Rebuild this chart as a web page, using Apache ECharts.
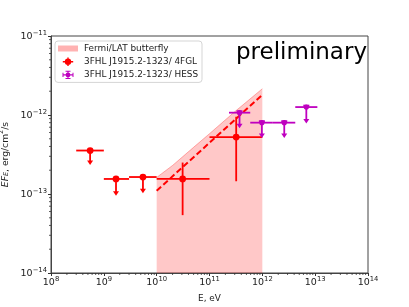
<!DOCTYPE html>
<html><head><meta charset="utf-8">
<script src="https://cdn.jsdelivr.net/npm/echarts@6/dist/echarts.min.js"></script>
<style>html,body{margin:0;padding:0;background:#fff}#c{width:409px;height:307px}</style>
</head><body><div id="c"></div>
<script>
// ---- data ----
const bflyE = [1e10, 2e10, 5e10, 1e11, 3e11, 1e12];
const bflyUpper = [1.62e-13, 2.3e-13, 3.9e-13, 5.8e-13, 1.1e-12, 2.15e-12];
const fitE = [1e10, 1e12];
const fitFlux = [1.1e-13, 1.8e-12];

const fglE = [5.5e8, 1.7e9, 5.5e9, 3.1e10, 3.2e11];
const fglFlux = [3.55e-13, 1.55e-13, 1.64e-13, 1.55e-13, 5.25e-13];
const fglElo = [3e8, 1e9, 3e9, 1e10, 1e11];
const fglEhi = [1e9, 3e9, 1e10, 1e11, 1e12];
const fglFluxLo = [2.33e-13, 9.5e-14, 1.02e-13, 5.4e-14, 1.45e-13];
const fglFluxHi = [null, null, null, 2.5e-13, 9.5e-13];
const fglUL = [1, 1, 1, 0, 0];

const hessE = [3.7e11, 9.8e11, 2.6e12, 6.8e12];
const hessFlux = [1.07e-12, 8.0e-13, 8.0e-13, 1.26e-12];
const hessElo = [2.34e11, 5.9e11, 1.58e12, 4.2e12];
const hessEhi = [5.9e11, 1.58e12, 4.2e12, 1.1e13];
const hessFluxLo = [6.8e-13, 5.1e-13, 5.1e-13, 7.8e-13];
const hessFluxHi = [null, null, null, null];
const hessUL = [1, 1, 1, 1];

const xMinExp = 8, xMaxExp = 14;
const yMinExp = -14, yMaxExp = -11;

// ---- helpers ----
const FONT = 'DejaVu Sans';
const RED = '#ff0000', MAG = '#bf00bf';
function rows(E, F, lo, hi, flo, fhi, ul) {
  return E.map((e, i) => [e, F[i], lo[i], hi[i], flo[i], fhi[i] == null ? F[i] : fhi[i], ul[i]]);
}
function errRender(color, r, cap) {
  return function (params, api) {
    const x = api.value(0), y = api.value(1);
    const p = api.coord([x, y]);
    const pl = api.coord([api.value(2), y]);
    const pr = api.coord([api.value(3), y]);
    const ls = {stroke: color, lineWidth: 1.8};
    const ch = [];
    ch.push({type: 'line', shape: {x1: pl[0], y1: p[1], x2: pr[0], y2: p[1]}, style: ls});
    if (api.value(6)) {
      const pe = api.coord([x, api.value(4)]);
      ch.push({type: 'line', shape: {x1: p[0], y1: p[1], x2: p[0], y2: pe[1] - 3}, style: ls});
      ch.push({type: 'polygon', shape: {points: [[p[0] - 3, pe[1] - 4.5], [p[0] + 3, pe[1] - 4.5], [p[0], pe[1]]]}, style: {fill: color}});
    } else {
      const pb = api.coord([x, api.value(4)]), pt = api.coord([x, api.value(5)]);
      ch.push({type: 'line', shape: {x1: p[0], y1: pt[1], x2: p[0], y2: pb[1]}, style: ls});
    }
    if (cap) ch.push({type: 'line', shape: {x1: p[0] - 3, y1: p[1] - 1.5, x2: p[0] + 3, y2: p[1] - 1.5}, style: ls});
    ch.push({type: 'circle', shape: {cx: p[0], cy: p[1], r: r}, style: {fill: color}});
    return {type: 'group', children: ch};
  };
}
function minorVals(a, b) {
  const out = [];
  for (let n = a; n < b; n++) for (let k = 2; k <= 9; k++) out.push(k * Math.pow(10, n));
  return out;
}
const tickColor = '#333';
function expLabel(v) {
  const e = Math.round(Math.log10(v));
  const s = String(e).replace('-', '\u2212');
  return '{b|10}{s|' + s + '}';
}
const richLab = {
  b: {fontSize: 9.5, fontFamily: FONT, color: '#222', lineHeight: 12, verticalAlign: 'bottom'},
  s: {fontSize: 6.8, fontFamily: FONT, color: '#222', lineHeight: 7, verticalAlign: 'top'}
};

const corner = ' M0 0h0.01v0.01h-0.01Z M19.99 8.99h0.01v0.01h-0.01Z';
const iconPatch = 'path://M0 1.5H20V7.5H0Z' + corner;
const iconRed = 'path://M6.8 4.5A3.2 3.2 0 1 1 13.2 4.5A3.2 3.2 0 1 1 6.8 4.5Z M4.8 3.8H15.2V5.2H4.8Z M9.3 0.3H10.7V8.7H9.3Z' + corner;
const iconMag = 'path://M7.6 4.5A2.4 2.4 0 1 1 12.4 4.5A2.4 2.4 0 1 1 7.6 4.5Z M4.5 3.9H15.5V5.1H4.5Z M9.4 0.3H10.6V8.7H9.4Z M7.5 0.3H12.5V1.3H7.5Z M7.5 7.7H12.5V8.7H7.5Z M4.5 2.3H5.5V6.7H4.5Z M14.5 2.3H15.5V6.7H14.5Z' + corner;

const chart = echarts.init(document.getElementById('c'), null, {renderer: 'canvas'});
chart.setOption({
  animation: false,
  backgroundColor: '#fff',
  textStyle: {fontFamily: FONT},
  grid: {left: 51, top: 36, width: 317, height: 237, show: true, borderColor: '#444', borderWidth: 1,
         backgroundColor: 'transparent', containLabel: false, outerBoundsMode: 'none'},
  legend: {
    orient: 'vertical', left: 55, top: 41, padding: [3, 4, 3, 3], itemGap: 4.2,
    itemWidth: 20, itemHeight: 9, borderColor: '#d5d5d5', borderWidth: 1, borderRadius: 3,
    backgroundColor: 'rgba(255,255,255,0.85)',
    textStyle: {fontFamily: FONT, fontSize: 8.9, color: '#222', padding: [0, 0, 0, 1]},
    data: [
      {name: 'Fermi/LAT butterfly', icon: iconPatch, itemStyle: {color: 'rgba(255,0,0,0.3)'}},
      {name: '3FHL J1915.2-1323/ 4FGL', icon: iconRed, itemStyle: {color: RED}},
      {name: '3FHL J1915.2-1323/ HESS', icon: iconMag, itemStyle: {color: MAG}}
    ]
  },
  xAxis: {
    type: 'log', logBase: 10, min: Math.pow(10, xMinExp), max: Math.pow(10, xMaxExp), interval: 1,
    name: 'E, eV', nameLocation: 'middle', nameGap: 21,
    nameTextStyle: {fontFamily: FONT, fontSize: 8.9, color: '#222'},
    axisLine: {lineStyle: {color: '#444', width: 1}},
    axisTick: {length: 3, lineStyle: {color: tickColor}},
    axisLabel: {formatter: expLabel, rich: richLab, margin: 3},
    splitLine: {show: false}
  },
  yAxis: {
    type: 'log', logBase: 10, min: Math.pow(10, yMinExp), max: Math.pow(10, yMaxExp), interval: 1,
    name: '{i|EF}{sub|E}{n|, erg/cm}{sup|2}{n|/s}', nameLocation: 'middle', nameGap: 37, nameRotate: 90,
    nameTextStyle: {
      rich: {
        i: {fontFamily: FONT, fontStyle: 'italic', fontSize: 9.2, color: '#222', verticalAlign: 'bottom', lineHeight: 12},
        sub: {fontFamily: FONT, fontStyle: 'italic', fontSize: 6.5, color: '#222', verticalAlign: 'bottom', lineHeight: 9},
        n: {fontFamily: FONT, fontSize: 9.2, color: '#222', verticalAlign: 'bottom', lineHeight: 12},
        sup: {fontFamily: FONT, fontSize: 6.5, color: '#222', verticalAlign: 'top', lineHeight: 7}
      }
    },
    axisLine: {lineStyle: {color: '#444', width: 1}},
    axisTick: {length: 3, lineStyle: {color: tickColor}},
    axisLabel: {formatter: expLabel, rich: richLab, margin: 4},
    splitLine: {show: false}
  },
  series: [
    {
      name: 'Fermi/LAT butterfly', type: 'line', z: 1,
      data: bflyE.map((e, i) => [e, bflyUpper[i]]),
      symbol: 'none', smooth: false,
      lineStyle: {color: 'rgba(255,0,0,0.3)', width: 1},
      itemStyle: {color: 'rgba(255,0,0,0.3)'},
      areaStyle: {color: 'rgba(255,0,0,0.31)', origin: 'start'}
    },
    {
      name: 'fit', type: 'line', z: 2,
      data: fitE.map((e, i) => [e, fitFlux[i]]),
      symbol: 'none', lineStyle: {color: RED, width: 2, type: [6, 3]}
    },
    {
      name: '3FHL J1915.2-1323/ 4FGL', type: 'custom', z: 3,
      itemStyle: {color: RED},
      data: rows(fglE, fglFlux, fglElo, fglEhi, fglFluxLo, fglFluxHi, fglUL),
      encode: {x: 0, y: 1},
      renderItem: errRender(RED, 3.4, false)
    },
    {
      name: '3FHL J1915.2-1323/ HESS', type: 'custom', z: 4,
      itemStyle: {color: MAG},
      data: rows(hessE, hessFlux, hessElo, hessEhi, hessFluxLo, hessFluxHi, hessUL),
      encode: {x: 0, y: 1},
      renderItem: errRender(MAG, 2.6, true)
    },
    {
      name: 'xminor', type: 'custom', silent: true, z: 5, clip: false,
      data: minorVals(xMinExp, xMaxExp).map(v => [v, Math.pow(10, yMinExp)]),
      encode: {x: 0, y: 1},
      renderItem: function (params, api) {
        const p = api.coord([api.value(0), api.value(1)]);
        return {type: 'line', shape: {x1: p[0], y1: p[1], x2: p[0], y2: p[1] + 2}, style: {stroke: tickColor, lineWidth: 0.8}};
      }
    },
    {
      name: 'yminor', type: 'custom', silent: true, z: 5, clip: false,
      data: minorVals(yMinExp, yMaxExp).map(v => [Math.pow(10, xMinExp), v]),
      encode: {x: 0, y: 1},
      renderItem: function (params, api) {
        const p = api.coord([api.value(0), api.value(1)]);
        return {type: 'line', shape: {x1: p[0], y1: p[1], x2: p[0] - 2, y2: p[1]}, style: {stroke: tickColor, lineWidth: 0.8}};
      }
    }
  ],
  graphic: [
    {type: 'text', left: 236, top: 42, z: 100,
     style: {text: 'preliminary', fontFamily: FONT, fontSize: 23, fill: '#000'}}
  ]
});
</script>
</body></html>
